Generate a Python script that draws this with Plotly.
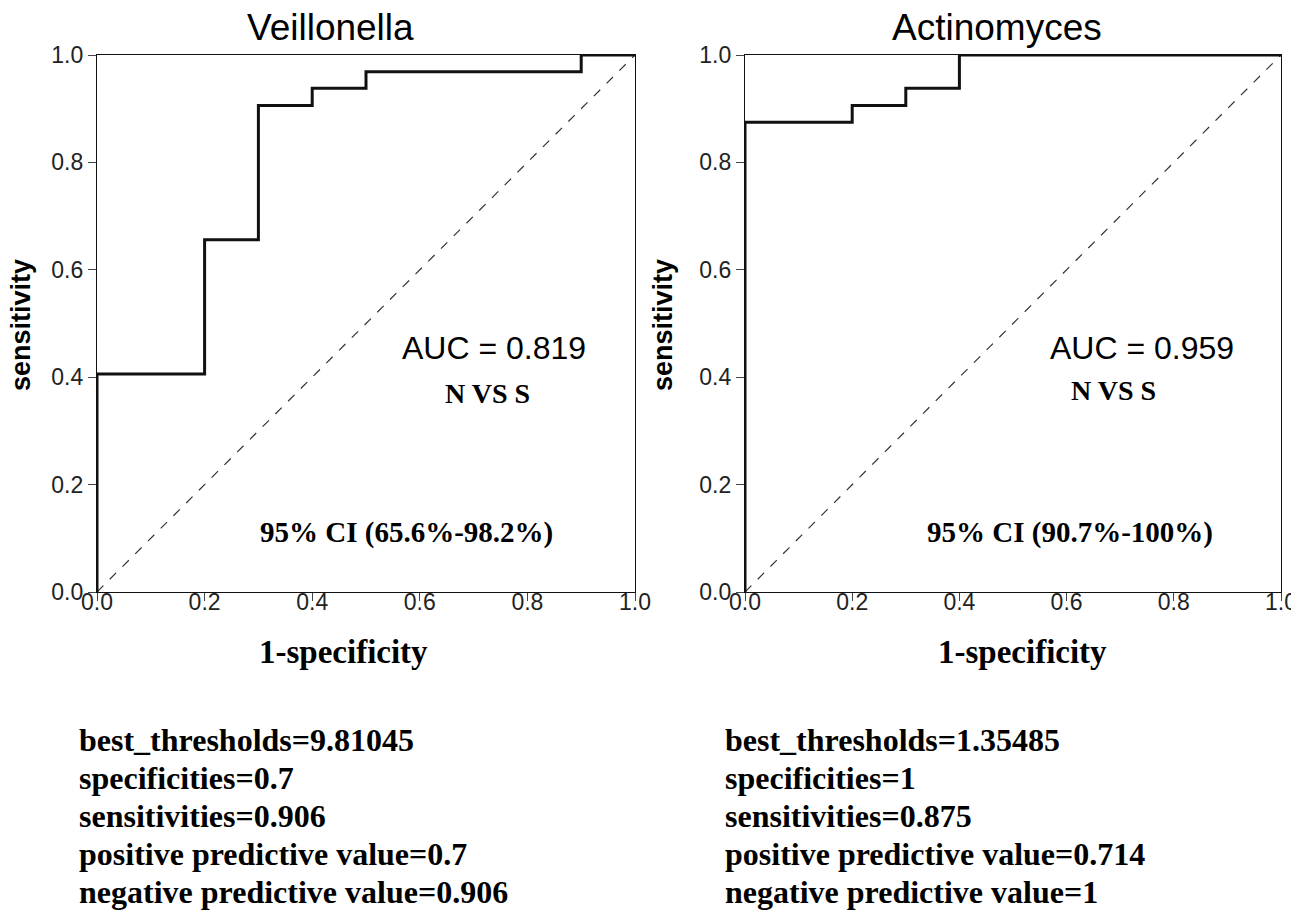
import plotly.graph_objects as go

# ROC step curves (x = 1-specificity, y = sensitivity)
veil_fpr = [0.0, 0.0, 0.2, 0.3, 0.4, 0.5, 0.9, 1.0]
veil_tpr = [0.0, 0.406, 0.656, 0.906, 0.938, 0.969, 1.0, 1.0]

acti_fpr = [0.0, 0.0, 0.2, 0.3, 0.4, 1.0]
acti_tpr = [0.0, 0.875, 0.906, 0.938, 1.0, 1.0]

chance_line = [0.0, 1.0]

tick_vals = [0.0, 0.2, 0.4, 0.6, 0.8, 1.0]
tick_text = ["0.0", "0.2", "0.4", "0.6", "0.8", "1.0"]

panel_titles = ["Veillonella", "Actinomyces"]
auc_labels = ["AUC = 0.819", "AUC = 0.959"]
ci_labels = ["95% CI (65.6%-98.2%)", "95% CI (90.7%-100%)"]
group_label = "N VS S"

veil_stats = [
    "best_thresholds=9.81045",
    "specificities=0.7",
    "sensitivities=0.906",
    "positive predictive value=0.7",
    "negative predictive value=0.906",
]
acti_stats = [
    "best_thresholds=1.35485",
    "specificities=1",
    "sensitivities=0.875",
    "positive predictive value=0.714",
    "negative predictive value=1",
]

SANS = "Arial, Liberation Sans, sans-serif"
SERIF = "Times New Roman, Liberation Serif, serif"
W, H = 1299, 915
PAGE_PAD = 8  # the page body margin shifts the figure by this much


# helpers: take a position in screen pixels and return paper coordinates
def px_x(p):
    return (p - PAGE_PAD) / W


def px_y(p):
    return 1 - (p - PAGE_PAD) / H


fig = go.Figure()

# curves
for xa, ya, fpr, tpr in [("x", "y", veil_fpr, veil_tpr), ("x2", "y2", acti_fpr, acti_tpr)]:
    fig.add_trace(go.Scatter(
        x=chance_line, y=chance_line, xaxis=xa, yaxis=ya, mode="lines",
        line=dict(color="#333333", width=1.2, dash="dash"),
        showlegend=False, hoverinfo="skip",
    ))
    fig.add_trace(go.Scatter(
        x=fpr, y=tpr, xaxis=xa, yaxis=ya, mode="lines",
        line=dict(color="#111111", width=3, shape="hv"),
        showlegend=False,
    ))

axis_common = dict(
    range=[0, 1], showgrid=False, zeroline=False, automargin=False,
    showline=True, linecolor="#111111", linewidth=1.3, mirror=True,
    ticks="outside", ticklen=8, tickcolor="#444444",
    tickvals=tick_vals, ticktext=tick_text,
    tickfont=dict(family=SANS, size=23, color="#222222"),
)

y_dom = [px_y(592), px_y(55)]
fig.update_layout(
    width=W, height=H,
    margin=dict(l=0, r=0, t=0, b=0, autoexpand=False),
    paper_bgcolor="white", plot_bgcolor="white",
    xaxis=dict(domain=[px_x(97), px_x(635)], anchor="y", ticklabelstandoff=-19, **axis_common),
    yaxis=dict(domain=y_dom, anchor="x", **axis_common),
    xaxis2=dict(domain=[px_x(745), px_x(1281)], anchor="y2", ticklabelstandoff=-19, **axis_common),
    yaxis2=dict(domain=y_dom, anchor="x2", **axis_common),
)

annotations = []

# panel titles
for txt, cx in zip(panel_titles, [330, 997]):
    annotations.append(dict(
        text=txt, x=px_x(cx), y=px_y(27), xref="paper", yref="paper",
        xanchor="center", yanchor="middle", showarrow=False,
        font=dict(family=SANS, size=37, color="black"),
    ))

# axis titles
for cx in [343, 1022]:
    annotations.append(dict(
        text="<b>1-specificity</b>", x=px_x(cx), y=px_y(652), xref="paper", yref="paper",
        xanchor="center", yanchor="middle", showarrow=False,
        font=dict(family=SERIF, size=33, color="black"),
    ))
for cx in [21, 663]:
    annotations.append(dict(
        text="<b>sensitivity</b>", x=px_x(cx), y=px_y(325), xref="paper", yref="paper",
        xanchor="center", yanchor="middle", showarrow=False, textangle=-90,
        font=dict(family=SANS, size=27, color="black"),
    ))

# in-plot labels
in_plot = [
    ("x", "y", auc_labels[0], ci_labels[0], (0.738, 0.454), (0.725, 0.369), (0.576, 0.110)),
    ("x2", "y2", auc_labels[1], ci_labels[1], (0.741, 0.454), (0.688, 0.376), (0.607, 0.110)),
]
for xr, yr, auc, ci, p_auc, p_grp, p_ci in in_plot:
    annotations.append(dict(
        text=auc, x=p_auc[0], y=p_auc[1], xref=xr, yref=yr, showarrow=False,
        xanchor="center", yanchor="middle",
        font=dict(family=SANS, size=32, color="black"),
    ))
    annotations.append(dict(
        text="<b>" + group_label + "</b>", x=p_grp[0], y=p_grp[1], xref=xr, yref=yr,
        showarrow=False, xanchor="center", yanchor="middle",
        font=dict(family=SERIF, size=28, color="black"),
    ))
    annotations.append(dict(
        text="<b>" + ci + "</b>", x=p_ci[0], y=p_ci[1], xref=xr, yref=yr,
        showarrow=False, xanchor="center", yanchor="middle",
        font=dict(family=SERIF, size=29, color="black"),
    ))

# stats blocks below the panels
line_y = [740, 778, 816, 854, 892]
for lines, lx in [(veil_stats, 77), (acti_stats, 723)]:
    for txt, ly in zip(lines, line_y):
        annotations.append(dict(
            text="<b>" + txt + "</b>", x=px_x(lx), y=px_y(ly), xref="paper", yref="paper",
            xanchor="left", yanchor="middle", showarrow=False,
            font=dict(family=SERIF, size=32, color="black"),
        ))

fig.update_layout(annotations=annotations)

fig.write_html("out.html")
